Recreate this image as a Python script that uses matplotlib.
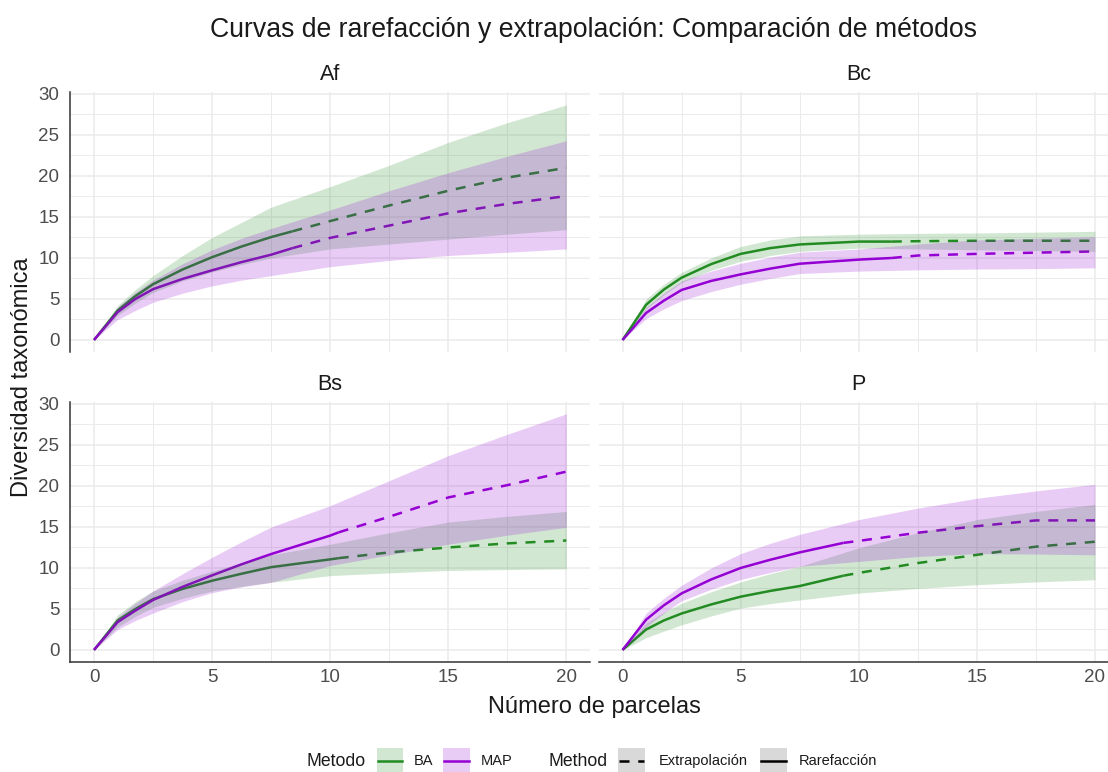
import numpy as np
import matplotlib
matplotlib.use("Agg")
import matplotlib.pyplot as plt
from matplotlib.lines import Line2D
from matplotlib.patches import Rectangle

plt.rcParams['font.family'] = ['Liberation Sans', 'DejaVu Sans']

grid_x = [0, 1, 1.75, 2.5, 3.75, 5, 6.25, 7.5, 10, 12.5, 15, 17.5, 20]

# Af
af_ba_mean = [0, 3.6, 5.35, 6.8, 8.6, 10.1, 11.4, 12.55, 14.5, 16.4, 18.2, 19.8, 21.0]
af_ba_lo = [0, 3.0, 4.5, 5.8, 7.2, 8.3, 9.2, 10.0, 11.1, 11.7, 12.3, 12.9, 13.45]
af_ba_hi = [0, 4.2, 6.15, 7.85, 10.3, 12.5, 14.35, 16.2, 18.7, 21.3, 24.1, 26.5, 28.66]
af_ba_obs = (8.4, 13.25)
af_map_mean = [0, 3.4, 5.0, 6.2, 7.45, 8.5, 9.5, 10.4, 12.45, 13.95, 15.45, 16.6, 17.55]
af_map_lo = [0, 2.5, 3.6, 4.6, 5.7, 6.6, 7.3, 7.85, 8.94, 9.7, 10.3, 10.7, 11.1]
af_map_hi = [0, 4.0, 5.8, 7.3, 9.3, 11.0, 12.4, 13.6, 15.85, 18.2, 20.4, 22.4, 24.3]
af_map_obs = (8.4, 11.2)

# Bc
bc_ba_mean = [0, 4.3, 6.15, 7.6, 9.25, 10.5, 11.2, 11.65, 12.0, 12.05, 12.1, 12.1, 12.1]
bc_ba_lo = [0, 3.8, 5.5, 7.0, 8.5, 9.6, 10.3, 10.8, 11.2, 11.1, 11.0, 10.9, 10.8]
bc_ba_hi = [0, 5.0, 6.8, 8.25, 10.0, 11.4, 12.2, 12.7, 12.9, 13.0, 13.05, 13.15, 13.25]
bc_ba_obs = (11.4, 12.0)
bc_map_mean = [0, 3.3, 4.8, 6.1, 7.2, 8.0, 8.7, 9.3, 9.8, 10.3, 10.5, 10.65, 10.8]
bc_map_lo = [0, 2.6, 3.8, 4.8, 5.9, 6.8, 7.5, 8.1, 8.4, 8.55, 8.65, 8.7, 8.8]
bc_map_hi = [0, 4.0, 5.7, 7.2, 8.4, 9.35, 10.1, 10.7, 11.1, 11.7, 12.2, 12.4, 12.6]
bc_map_obs = (11.4, 10.0)

# Bs
bs_ba_mean = [0, 3.6, 5.0, 6.2, 7.45, 8.45, 9.3, 10.1, 11.05, 11.9, 12.5, 13.0, 13.35]
bs_ba_lo = [0, 2.8, 4.1, 5.2, 6.3, 7.2, 7.75, 8.25, 9.07, 9.4, 9.7, 9.8, 9.9]
bs_ba_hi = [0, 4.3, 5.9, 7.2, 8.5, 9.6, 10.65, 11.6, 12.9, 14.3, 15.6, 16.3, 16.9]
bs_ba_obs = (10.36, 11.2)
bs_map_mean = [0, 3.4, 4.8, 6.1, 7.7, 9.1, 10.45, 11.7, 13.95, 16.25, 18.6, 20.1, 21.75]
bs_map_lo = [0, 2.5, 3.6, 4.5, 5.9, 7.0, 7.7, 8.25, 10.3, 11.6, 12.9, 14.0, 14.96]
bs_map_hi = [0, 4.0, 5.7, 7.2, 9.3, 11.3, 13.2, 15.0, 17.6, 20.65, 23.7, 26.3, 28.8]
bs_map_obs = (10.36, 14.35)

# P
p_ba_mean = [0, 2.5, 3.6, 4.45, 5.55, 6.5, 7.2, 7.8, 9.4, 10.6, 11.6, 12.6, 13.2]
p_ba_lo = [0, 1.5, 2.3, 3.06, 4.15, 5.1, 5.65, 6.1, 6.94, 7.5, 7.96, 8.3, 8.57]
p_ba_hi = [0, 3.3, 4.6, 5.7, 7.1, 8.3, 9.3, 10.2, 12.45, 14.3, 15.9, 16.9, 17.75]
p_ba_obs = (9.35, 9.06)
p_map_mean = [0, 3.7, 5.45, 6.9, 8.6, 10.0, 11.0, 11.9, 13.3, 14.3, 15.1, 15.8, 15.8]
p_map_lo = [0, 2.8, 4.5, 6.0, 7.4, 8.6, 9.45, 10.2, 10.8, 11.4, 11.75, 11.7, 11.6]
p_map_hi = [0, 4.5, 6.3, 7.9, 10.0, 11.75, 13.0, 14.1, 15.9, 17.3, 18.5, 19.4, 20.2]
p_map_obs = (9.35, 13.06)

panels = {
    'Af': [(af_ba_mean, af_ba_lo, af_ba_hi, af_ba_obs), (af_map_mean, af_map_lo, af_map_hi, af_map_obs)],
    'Bc': [(bc_ba_mean, bc_ba_lo, bc_ba_hi, bc_ba_obs), (bc_map_mean, bc_map_lo, bc_map_hi, bc_map_obs)],
    'Bs': [(bs_ba_mean, bs_ba_lo, bs_ba_hi, bs_ba_obs), (bs_map_mean, bs_map_lo, bs_map_hi, bs_map_obs)],
    'P': [(p_ba_mean, p_ba_lo, p_ba_hi, p_ba_obs), (p_map_mean, p_map_lo, p_map_hi, p_map_obs)],
}
metodos = ['BA', 'MAP']
colors = {'BA': '#228B22', 'MAP': '#9400D3'}

W, H = 1108, 772
fig = plt.figure(figsize=(W / 100, H / 100), dpi=100)


def fx(x):
    return x / W


def fy(y):
    return 1 - y / H


def rect(l, r, t, b):
    return [fx(l), fy(b), (r - l) / W, (b - t) / H]


cols = [(70.4, 590.0), (598.9, 1118.6)]
rows = [(92.4, 351.8), (402.4, 661.8)]
grey = '#4D4D4D'

for k, name in enumerate(panels):
    i, j = divmod(k, 2)
    l, r = cols[j]
    t, b = rows[i]
    ax = fig.add_axes(rect(l, r, t, b))
    ax.set_xlim(-1, 21)
    ax.set_ylim(-1.44, 30.19)
    ax.set_xticks([0, 5, 10, 15, 20])
    ax.set_xticks([2.5, 7.5, 12.5, 17.5], minor=True)
    ax.set_yticks(range(0, 31, 5))
    ax.set_yticks(np.arange(2.5, 30, 5), minor=True)
    ax.grid(which='major', color='#EBEBEB', lw=1.1)
    ax.grid(which='minor', color='#EBEBEB', lw=0.7)
    ax.set_axisbelow(True)
    ax.tick_params(which='both', length=0, labelsize=13.5, labelcolor=grey)
    ax.tick_params(axis='y', pad=8)
    ax.tick_params(axis='x', pad=5)
    for s in ax.spines.values():
        s.set_visible(False)
    if j == 0:
        ax.spines['left'].set_visible(True)
        ax.spines['left'].set_color('#333333')
        ax.spines['left'].set_linewidth(1.1)
    else:
        ax.set_yticklabels([])
    if i == 1:
        ax.spines['bottom'].set_visible(True)
        ax.spines['bottom'].set_color('#333333')
        ax.spines['bottom'].set_linewidth(1.1)
    else:
        ax.set_xticklabels([])

    # lines first, ribbons drawn on top of them
    for m, (mean, lo, hi, obs) in zip(metodos, panels[name]):
        c = colors[m]
        xs = np.array(grid_x)
        ys = np.array(mean)
        before = xs < obs[0]
        ax.plot(list(xs[before]) + [obs[0]], list(ys[before]) + [obs[1]],
                color=c, lw=1.8, solid_capstyle='butt', solid_joinstyle='round', zorder=2)
        ax.plot([obs[0]] + list(xs[~before]), [obs[1]] + list(ys[~before]),
                color=c, lw=1.8, ls=(0, (4, 3.5)), zorder=2)
    for m, (mean, lo, hi, obs) in zip(metodos, panels[name]):
        ax.fill_between(grid_x, lo, hi, color=colors[m], alpha=0.2, lw=0, zorder=3)

    fig.text(fx((l + r) / 2), fy(75 if i == 0 else 385), name, ha='center', va='center',
             fontsize=15.5, color='#1A1A1A')

fig.text(fx(594), fy(30), 'Curvas de rarefacción y extrapolación: Comparación de métodos',
         ha='center', va='center', fontsize=19.2, color='#1A1A1A')
fig.text(fx(594), fy(707), 'Número de parcelas', ha='center', va='center',
         fontsize=17, color='#1A1A1A')
fig.text(fx(22), fy(377), 'Diversidad taxonómica', ha='center', va='center',
         rotation=90, fontsize=17, color='#1A1A1A')

# legend
ly = 761
kw, kh = 26.5, 27
fig.text(fx(306.7), fy(ly), 'Metodo', ha='left', va='center', fontsize=12.7, color='#1A1A1A')
fig.text(fx(548.3), fy(ly), 'Method', ha='left', va='center', fontsize=12.7, color='#1A1A1A')
keys = [
    (376.7, colors['BA'], 0.2, colors['BA'], '-', 'BA', 413.3),
    (443.3, colors['MAP'], 0.2, colors['MAP'], '-', 'MAP', 480.7),
    (618.3, '#D9D9D9', 1.0, 'black', (0, (4, 3.5)), 'Extrapolación', 658.3),
    (760.0, '#D9D9D9', 1.0, 'black', '-', 'Rarefacción', 798.3),
]
for kx, fc, al, lc, ls, lab, tx in keys:
    fig.add_artist(Rectangle((fx(kx), fy(ly + kh / 2)), kw / W, kh / H, facecolor=fc,
                             alpha=al, lw=0, transform=fig.transFigure))
    fig.add_artist(Line2D([fx(kx + 1), fx(kx + kw - 1)], [fy(ly), fy(ly)], color=lc, lw=1.8,
                          ls=ls, transform=fig.transFigure))
    fig.text(fx(tx), fy(ly), lab, ha='left', va='center', fontsize=10.5, color='#1A1A1A')

fig.savefig('out.png', dpi=100)
